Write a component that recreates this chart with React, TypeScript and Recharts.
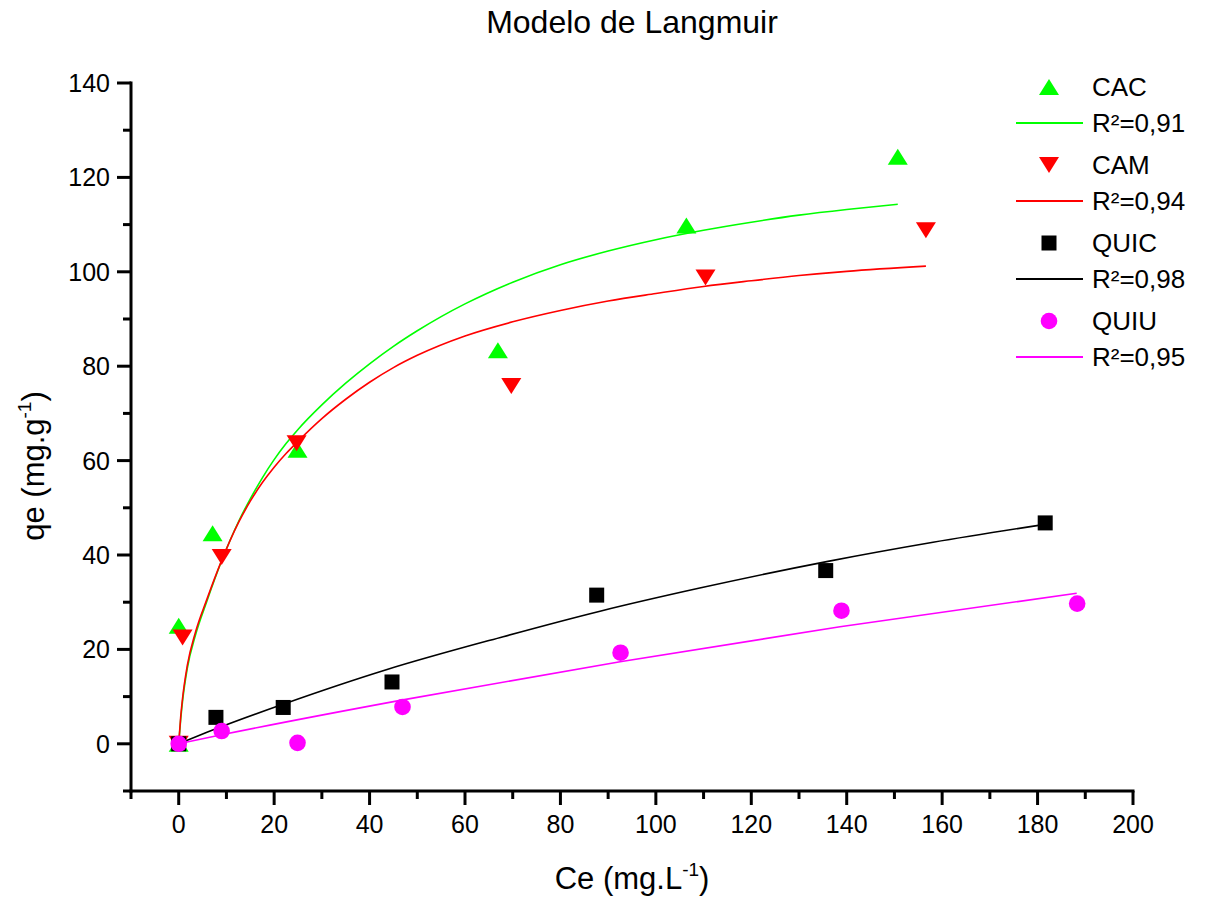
import React from 'react';
import { ComposedChart, XAxis, YAxis, Line, Scatter, Customized } from 'recharts';

// Axis ticks (major ones carry labels, the odd tens are minor ticks)
const xTicks = [-10, 0, 10, 20, 30, 40, 50, 60, 70, 80, 90, 100, 110, 120, 130, 140, 150, 160, 170, 180, 190, 200];
const yTicks = [-10, 0, 10, 20, 30, 40, 50, 60, 70, 80, 90, 100, 110, 120, 130, 140];

// Experimental points: Ce (mg/L) vs qe (mg/g)
const cacPoints = [
  { x: 0, y: 0 }, { x: 0, y: 25 }, { x: 7.1, y: 44.6 }, { x: 24.9, y: 62.3 },
  { x: 66.9, y: 83.4 }, { x: 106.4, y: 109.8 }, { x: 150.7, y: 124.4 },
];
const camPoints = [
  { x: 0, y: 0 }, { x: 0.8, y: 22.5 }, { x: 9, y: 39.6 }, { x: 24.7, y: 63.7 },
  { x: 69.7, y: 75.8 }, { x: 110.4, y: 98.8 }, { x: 156.6, y: 108.8 },
];
const quicPoints = [
  { x: 0, y: 0 }, { x: 7.8, y: 5.6 }, { x: 21.9, y: 7.7 }, { x: 44.7, y: 13.1 },
  { x: 87.6, y: 31.5 }, { x: 135.6, y: 36.7 }, { x: 181.6, y: 46.8 },
];
const quiuPoints = [
  { x: 0, y: 0 }, { x: 9, y: 2.7 }, { x: 24.9, y: 0.2 }, { x: 46.9, y: 7.8 },
  { x: 92.6, y: 19.3 }, { x: 138.9, y: 28.2 }, { x: 188.3, y: 29.7 },
];

// Langmuir fitted curves
const cacFit = [
  { x: 0, y: 0 }, { x: 0.4, y: 5 }, { x: 0.8, y: 9 }, { x: 1.8, y: 16 }, { x: 3.5, y: 23 },
  { x: 5.9, y: 30.2 }, { x: 8.9, y: 38.5 }, { x: 12.6, y: 47.2 }, { x: 15, y: 51.9 },
  { x: 17.5, y: 56.3 }, { x: 20, y: 60.2 }, { x: 22.5, y: 63.6 }, { x: 25, y: 66.6 },
  { x: 30, y: 71.8 }, { x: 35, y: 76.4 }, { x: 40, y: 80.5 }, { x: 45, y: 84.2 },
  { x: 50, y: 87.5 }, { x: 55, y: 90.5 }, { x: 60, y: 93.2 }, { x: 70, y: 97.8 },
  { x: 80, y: 101.5 }, { x: 90, y: 104.4 }, { x: 100, y: 106.8 }, { x: 110, y: 108.8 },
  { x: 120, y: 110.5 }, { x: 130, y: 112.0 }, { x: 140, y: 113.2 }, { x: 150.7, y: 114.3 },
];
const camFit = [
  { x: 0, y: 0 }, { x: 0.4, y: 5.5 }, { x: 0.8, y: 9.6 }, { x: 1.8, y: 16.6 }, { x: 3.5, y: 23.6 },
  { x: 5.9, y: 30.6 }, { x: 8.9, y: 38.6 }, { x: 12.6, y: 47 }, { x: 15, y: 51.4 },
  { x: 17.5, y: 55.3 }, { x: 20, y: 58.6 }, { x: 22.5, y: 61.5 }, { x: 25, y: 64.1 },
  { x: 30, y: 68.9 }, { x: 35, y: 73 }, { x: 40, y: 76.6 }, { x: 45, y: 79.7 },
  { x: 50, y: 82.3 }, { x: 60, y: 86.4 }, { x: 70, y: 89.4 }, { x: 80, y: 91.8 },
  { x: 90, y: 93.8 }, { x: 100, y: 95.4 }, { x: 110, y: 96.9 }, { x: 120, y: 98.1 },
  { x: 130, y: 99.2 }, { x: 140, y: 100.1 }, { x: 156.6, y: 101.2 },
];
const quicFit = [
  { x: 0, y: 0 }, { x: 8.6, y: 3.5 }, { x: 21.9, y: 8.4 }, { x: 43.5, y: 15.7 },
  { x: 68, y: 22.7 }, { x: 88.3, y: 28.1 }, { x: 109.2, y: 33.0 }, { x: 135.8, y: 38.6 },
  { x: 158.1, y: 42.7 }, { x: 181.6, y: 46.5 },
];
const quiuFit = [
  { x: 0, y: 0 }, { x: 9, y: 1.9 }, { x: 47, y: 9.3 }, { x: 92.5, y: 17.4 },
  { x: 138.6, y: 24.8 }, { x: 188.2, y: 31.9 },
];

const legendItems = [
  { name: 'CAC', r2: 'R²=0,91', color: '#00ff00', marker: 'up' },
  { name: 'CAM', r2: 'R²=0,94', color: '#ff0000', marker: 'down' },
  { name: 'QUIC', r2: 'R²=0,98', color: '#000000', marker: 'square' },
  { name: 'QUIU', r2: 'R²=0,95', color: '#ff00ff', marker: 'circle' },
];

const FONT = '"Liberation Sans", Arial, Helvetica, sans-serif';

const Marker = ({ kind, cx, cy, color }: { kind: string; cx: number; cy: number; color: string }) => {
  if (kind === 'up') {
    return <polygon points={`${cx - 10},${cy + 8} ${cx + 10},${cy + 8} ${cx},${cy - 8}`} fill={color} />;
  }
  if (kind === 'down') {
    return <polygon points={`${cx - 10},${cy - 8} ${cx + 10},${cy - 8} ${cx},${cy + 8}`} fill={color} />;
  }
  if (kind === 'square') {
    return <rect x={cx - 7.5} y={cy - 7.5} width={15} height={15} fill={color} />;
  }
  return <circle cx={cx} cy={cy} r={8.3} fill={color} />;
};

const shapeFor = (kind: string, color: string) => (props: any) =>
  <Marker kind={kind} cx={props.cx} cy={props.cy} color={color} />;

const renderXTick = (props: any) => {
  const { x, y, payload } = props;
  const major = payload.value % 20 === 0;
  return (
    <g>
      <line x1={x} y1={y} x2={x} y2={y + (major ? 14 : 8)} stroke="#000" strokeWidth={3} />
      {major && (
        <text x={x} y={y + 42} textAnchor="middle" fontSize={25} fontFamily={FONT} fill="#000">
          {payload.value}
        </text>
      )}
    </g>
  );
};

const renderYTick = (props: any) => {
  const { x, y, payload } = props;
  const major = payload.value % 20 === 0;
  return (
    <g>
      <line x1={x} y1={y} x2={x - (major ? 14 : 8)} y2={y} stroke="#000" strokeWidth={3} />
      {major && (
        <text x={x - 21} y={y + 9} textAnchor="end" fontSize={25} fontFamily={FONT} fill="#000">
          {payload.value}
        </text>
      )}
    </g>
  );
};

const Decorations = () => (
  <g fontFamily={FONT} fill="#000">
    <text x={632} y={33} textAnchor="middle" fontSize={32}>Modelo de Langmuir</text>
    <text x={632} y={889} textAnchor="middle" fontSize={31}>
      Ce (mg.L<tspan fontSize={19} dy={-13}>-1</tspan><tspan dy={13}>)</tspan>
    </text>
    <text transform="translate(44, 466) rotate(-90)" textAnchor="middle" fontSize={31}>
      qe (mg.g<tspan fontSize={19} dy={-13}>-1</tspan><tspan dy={13}>)</tspan>
    </text>
    {legendItems.map((item, i) => {
      const my = 87 + i * 78;
      const ly = 123 + i * 78;
      return (
        <g key={item.name}>
          <Marker kind={item.marker} cx={1049} cy={my} color={item.color} />
          <text x={1092} y={my} dominantBaseline="central" fontSize={26}>{item.name}</text>
          <line x1={1016} y1={ly} x2={1083} y2={ly} stroke={item.color} strokeWidth={2} />
          <text x={1092} y={ly} dominantBaseline="central" fontSize={26}>{item.r2}</text>
        </g>
      );
    })}
  </g>
);

export default function App() {
  return (
    <div style={{ position: 'absolute', left: 0, top: 0, width: 1205, height: 897, background: '#fff' }}>
      <ComposedChart
        width={1205}
        height={897}
        margin={{ top: 83, right: 72, bottom: 46, left: 71 }}
      >
        <XAxis
          type="number"
          dataKey="x"
          domain={[-10, 200]}
          ticks={xTicks}
          interval={0}
          allowDataOverflow
          height={60}
          tickSize={0}
          tickMargin={0}
          tickLine={false}
          tick={renderXTick}
          axisLine={{ stroke: '#000', strokeWidth: 3, strokeLinecap: 'square' }}
        />
        <YAxis
          type="number"
          dataKey="y"
          domain={[-10, 140]}
          ticks={yTicks}
          interval={0}
          allowDataOverflow
          width={60}
          tickSize={0}
          tickMargin={0}
          tickLine={false}
          tick={renderYTick}
          axisLine={{ stroke: '#000', strokeWidth: 3, strokeLinecap: 'square' }}
        />
        <Line data={cacFit} dataKey="y" type="monotone" stroke="#00ff00" strokeWidth={1.6} dot={false} activeDot={false} isAnimationActive={false} />
        <Line data={camFit} dataKey="y" type="monotone" stroke="#ff0000" strokeWidth={1.6} dot={false} activeDot={false} isAnimationActive={false} />
        <Line data={quicFit} dataKey="y" type="monotone" stroke="#000000" strokeWidth={1.6} dot={false} activeDot={false} isAnimationActive={false} />
        <Line data={quiuFit} dataKey="y" type="monotone" stroke="#ff00ff" strokeWidth={1.6} dot={false} activeDot={false} isAnimationActive={false} />
        <Scatter data={cacPoints} shape={shapeFor('up', '#00ff00')} isAnimationActive={false} />
        <Scatter data={camPoints} shape={shapeFor('down', '#ff0000')} isAnimationActive={false} />
        <Scatter data={quicPoints} shape={shapeFor('square', '#000000')} isAnimationActive={false} />
        <Scatter data={quiuPoints} shape={shapeFor('circle', '#ff00ff')} isAnimationActive={false} />
        <Customized component={Decorations} />
      </ComposedChart>
    </div>
  );
}
